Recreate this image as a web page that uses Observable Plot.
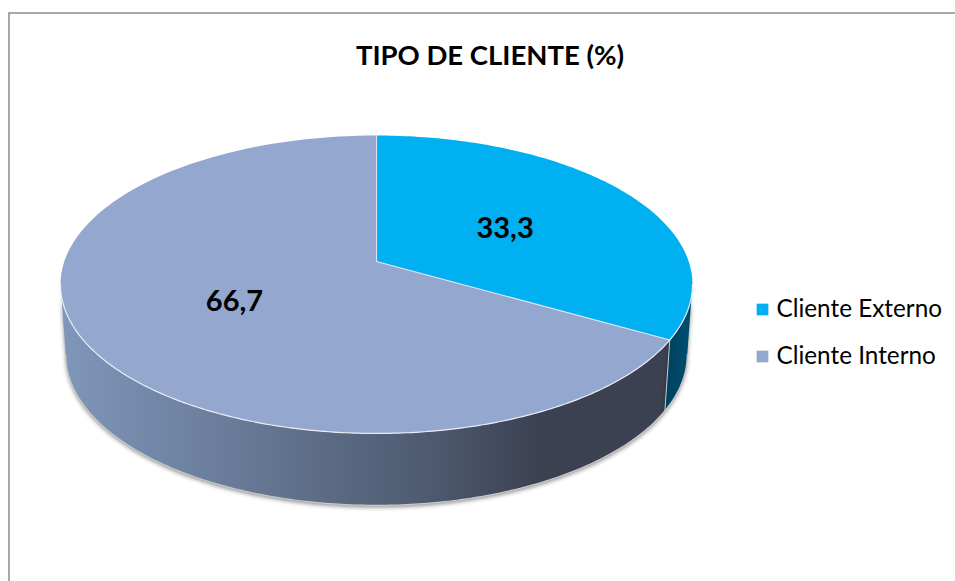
<!DOCTYPE html>
<html>
<head>
<meta charset="utf-8">
<script src="https://cdn.jsdelivr.net/npm/d3@7"></script>
<script src="https://cdn.jsdelivr.net/npm/@observablehq/plot@0.6"></script>
<style>
html,body{margin:0;padding:0;background:#fff;overflow:hidden}
svg{display:block}
</style>
</head>
<body>
<div id="chart"></div>
<script>
const titleText = "TIPO DE CLIENTE (%)";
const categories = ["Cliente Externo", "Cliente Interno"];
const values = [33.3, 66.7];
const valueLabels = ["33,3", "66,7"];
const colors = ["#00b0f0", "#93a7cf"];

// Perspective disc: the apex is not the ellipse centre.
const k = 0.1544;
const topDisc = {X: 376, Y: 261, A: 312.2, B: 145.4};
const botDisc = {X: 376, Y: 331, A: 307, B: 147};
const project = (d, theta, r = 1) => {
  const u = r * Math.sin(theta), v = -r * Math.cos(theta), w = 1 - k * v;
  return {x: d.X + d.A * u / w, y: d.Y + d.B * v / w};
};
const arcs = d3.pie().sort(null)(values);
const tangentR = Math.PI - Math.acos(k), tangentL = Math.PI + Math.acos(k);
const range = (a, b, n = 120) => d3.range(n + 1).map(i => a + (b - a) * i / n);

const slices = arcs.flatMap((a, i) => [
  {x: topDisc.X, y: topDisc.Y, name: categories[i]},
  ...range(a.startAngle, a.endAngle).map(t => ({...project(topDisc, t), name: categories[i]}))
]);
const wall = (i) => {
  const a = Math.max(arcs[i].startAngle, tangentR), b = Math.min(arcs[i].endAngle, tangentL);
  return [
    ...range(a, b).map(t => project(topDisc, t)),
    ...range(b, a).map(t => project(botDisc, t))
  ];
};
const bottomEdge = range(tangentR, tangentL, 240).map(t => project(botDisc, t));
const rimEdge = range(tangentR, tangentL, 240).map(t => project(topDisc, t));
const seamWall = [project(topDisc, arcs[0].endAngle), project(botDisc, arcs[0].endAngle)];
const spokes = [project(topDisc, 0), {x: topDisc.X, y: topDisc.Y}, project(topDisc, arcs[0].endAngle)];
const labels = arcs.map((a, i) => ({
  ...project(topDisc, (a.startAngle + a.endAngle) / 2, 0.5),
  text: valueLabels[i]
}));
const legend = categories.map((name, i) => ({name, y: 309 + i * 47}));

const gradient = () => {
  const defs = d3.create("svg:defs");
  const g = defs.append("linearGradient").attr("id", "wallGrey");
  [[0, "#8097ba"], [0.15, "#7388a8"], [0.4, "#5f6f89"], [0.58, "#4f5d73"], [0.72, "#434a5e"], [0.79, "#3c4151"], [1, "#3c4151"]]
    .forEach(([o, c]) => g.append("stop").attr("offset", o).attr("stop-color", c));
  const h = defs.append("linearGradient").attr("id", "wallBlue");
  [[0, "#00405e"], [1, "#004f70"]]
    .forEach(([o, c]) => h.append("stop").attr("offset", o).attr("stop-color", c));
  return defs.node();
};

const plot = Plot.plot({
  width: 955, height: 581,
  margin: 0,
  x: {domain: [0, 955], range: [0, 955], axis: null},
  y: {domain: [0, 581], range: [0, 581], axis: null},
  color: {domain: categories, range: colors},
  style: {background: "#fff", fontFamily: "Lato, sans-serif"},
  marks: [
    gradient,
    Plot.ruleY([12.5], {stroke: "#8c8c8c", strokeWidth: 1.5, x1: 8.5, x2: 955}),
    Plot.ruleX([8.5], {stroke: "#8c8c8c", strokeWidth: 1.5, y1: 12.5, y2: 581}),
    Plot.line(wall(1), {x: "x", y: "y", fill: "url(#wallGrey)", stroke: "none", curve: "linear", ariaDescription: "wall"}),
    Plot.line(wall(0), {x: "x", y: "y", fill: "url(#wallBlue)", stroke: "none", curve: "linear", ariaDescription: "wall"}),
    Plot.line(bottomEdge, {x: "x", y: "y", stroke: "#c9c9c9", strokeWidth: 1.2}),
    Plot.line(seamWall, {x: "x", y: "y", stroke: "#c4ccd6", strokeWidth: 1}),
    Plot.line(slices, {x: "x", y: "y", z: "name", fill: "name", stroke: "none", curve: "linear"}),
    Plot.line(rimEdge, {x: "x", y: "y", stroke: "#e8ecf4", strokeWidth: 1.2}),
    Plot.line(spokes, {x: "x", y: "y", stroke: "#dfe6f2", strokeWidth: 1.1}),
    Plot.text(labels, {x: "x", y: "y", dx: -1.5, dy: 2, text: "text", fontSize: 29, fontWeight: 700, fill: "#000"}),
    Plot.text([titleText], {frameAnchor: "top", dy: 56, lineAnchor: "middle", dx: 12, fontSize: 27.5, fontWeight: 700, fill: "#000"}),
    Plot.dot(legend, {x: 762, y: "y", symbol: "square", r: 6.6, fill: "name", stroke: "none"}),
    Plot.text(legend, {x: 776, y: "y", text: "name", textAnchor: "start", fontSize: 24.3, fill: "#000"})
  ]
});
d3.select(plot).selectAll('[aria-description="wall"]')
  .style("filter", "drop-shadow(0px 2px 2px rgba(0,0,0,0.45))");
document.getElementById("chart").append(plot);
</script>
</body>
</html>
